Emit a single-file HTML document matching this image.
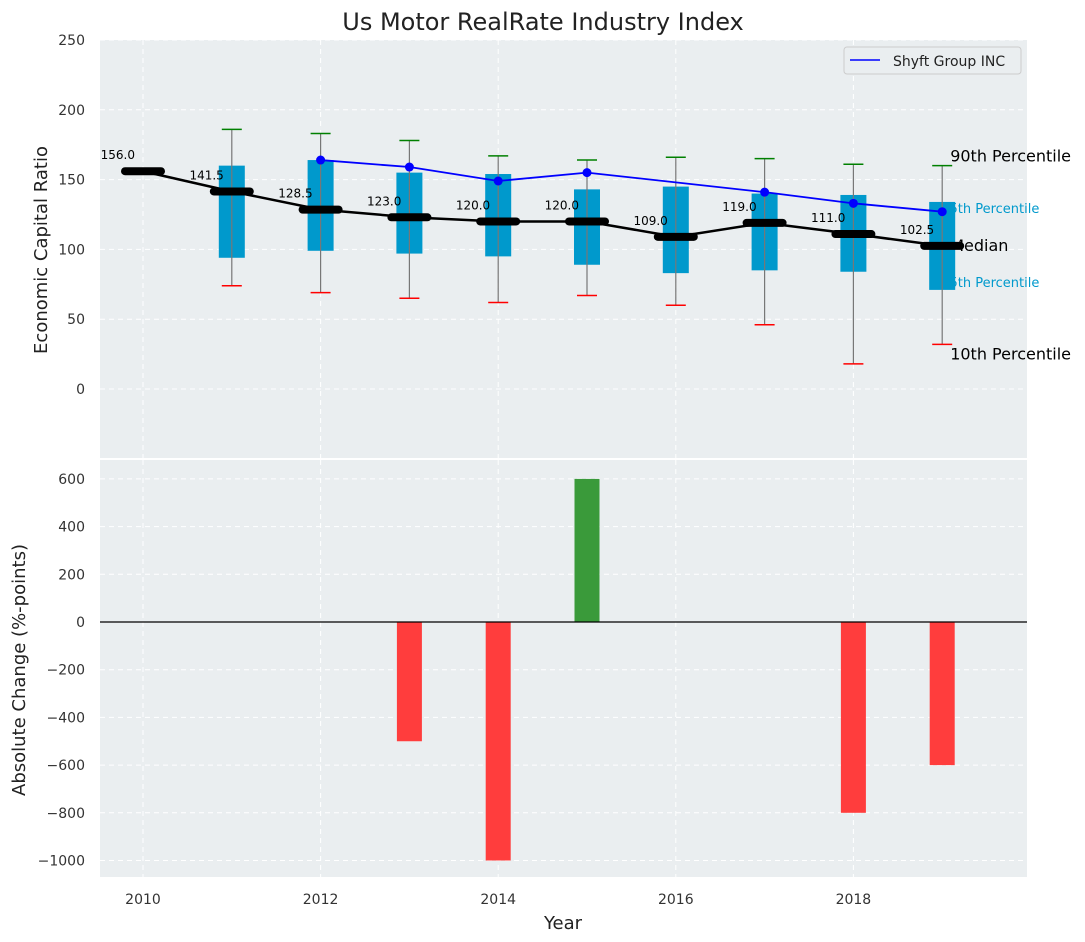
<!DOCTYPE html>
<html><head><meta charset="utf-8"><style>
body{margin:0;background:#fff;}
svg{display:block;font-family:"DejaVu Sans","Liberation Sans",sans-serif;}
</style></head><body>
<svg id="chart" width="1085" height="942" xmlns="http://www.w3.org/2000/svg">
<text x="543" y="30" font-size="24" text-anchor="middle" fill="#222">Us Motor RealRate Industry Index</text>
<rect x="100" y="40" width="927" height="418" fill="#eaeef0"/>
<rect x="100" y="460" width="927" height="417" fill="#eaeef0"/>
<g id="gtop"></g><g id="gbot"></g>
<text x="47" y="250" font-size="18" text-anchor="middle" fill="#222" transform="rotate(-90 47 250)">Economic Capital Ratio</text>
<text x="25" y="670" font-size="18" text-anchor="middle" fill="#222" transform="rotate(-90 25 670)">Absolute Change (%-points)</text>
<text x="563" y="929" font-size="18" text-anchor="middle" fill="#222">Year</text>
<g>
<rect x="844" y="47" width="177" height="27" rx="3" fill="#eaeef0" stroke="#ccc"/>
<line x1="850" y1="60" x2="880" y2="60" stroke="blue" stroke-width="1.5"/>
<text x="893" y="66" font-size="14" fill="#222">Shyft Group INC</text>
</g>
</svg>
<script>
const years=[2010,2011,2012,2013,2014,2015,2016,2017,2018,2019];
const medians=[156,141.5,128.5,123,120,120,109,119,111,102.5];
const p90=[null,186,183,178,167,164,166,165,161,160];
const p10=[null,74,69,65,62,67,60,46,18,32];
const q3=[null,160,164,155,154,143,145,140,139,134];
const q1=[null,94,99,97,95,89,83,85,84,71];
const shyft=[null,null,164,159,149,155,null,141,133,127];
const changes=[0,0,0,-500,-1000,600,0,0,-800,-600];
const topTicks=[0,50,100,150,200,250];
const botTicks=[-1000,-800,-600,-400,-200,0,200,400,600];
const xTicks=[2010,2012,2014,2016,2018];

const NS="http://www.w3.org/2000/svg";
const X=v=>143+(v-2010)*88.8;
const Yt=v=>389-v*1.396;
const Yb=v=>622-v*0.2385;
function mk(p,t,a){const e=document.createElementNS(NS,t);for(const k in a)e.setAttribute(k,a[k]);p.appendChild(e);return e;}
const gTop=document.getElementById('gtop'),gBot=document.getElementById('gbot');

topTicks.forEach(v=>{
 const l=mk(gTop,'line',{x1:100,x2:1027,y1:Yt(v),y2:Yt(v),stroke:'#fff','stroke-dasharray':'5,4'});
 
 
 const t=mk(gTop,'text',{x:85,y:Yt(v)+5,'font-size':14,'text-anchor':'end',fill:'#333'});t.textContent=v;
 
 
});
botTicks.forEach(v=>{
 const l=mk(gBot,'line',{x1:100,x2:1027,y1:Yb(v),y2:Yb(v),stroke:'#fff','stroke-dasharray':'5,4'});
 
 
 const t=mk(gBot,'text',{x:85,y:Yb(v)+5,'font-size':14,'text-anchor':'end',fill:'#333'});t.textContent=(v<0?'\u2212'+(-v):v);
 
 
});
xTicks.forEach(v=>{
 mk(gTop,'line',{x1:X(v),x2:X(v),y1:40,y2:458,stroke:'#fff','stroke-dasharray':'5,4'});
 mk(gBot,'line',{x1:X(v),x2:X(v),y1:460,y2:877,stroke:'#fff','stroke-dasharray':'5,4'});
 const t=mk(gBot,'text',{x:X(v),y:904,'font-size':14,'text-anchor':'middle',fill:'#333'});t.textContent=v;
 
 
});

const lx=X(2019);
[['90th Percentile',p90[9],'#000',16,8,-4],['75th Percentile',q3[9],'#0099cc',13,-1,11],['Median',medians[9],'#000',16,8,5],['25th Percentile',q1[9],'#0099cc',13,-1,-3],['10th Percentile',p10[9],'#000',16,8,15]].forEach(a=>{
 const t=mk(gTop,'text',{x:lx+a[4],y:Yt(a[1])+a[5],'font-size':a[3],fill:a[2]});
 t.textContent=a[0];
 
 
});

years.forEach((yr,i)=>{
 if(q1[i]==null)return;
 const x=X(yr);
 const b=mk(gTop,'rect',{x:x-13,y:Yt(q3[i]),width:26,height:Yt(q1[i])-Yt(q3[i]),fill:'#0099cc'});
 
 
 mk(gTop,'line',{x1:x,x2:x,y1:Yt(p90[i]),y2:Yt(p10[i]),stroke:'#777','stroke-width':1.2});
 mk(gTop,'line',{x1:x-10,x2:x+10,y1:Yt(p90[i]),y2:Yt(p90[i]),stroke:'green','stroke-width':1.5});
 mk(gTop,'line',{x1:x-10,x2:x+10,y1:Yt(p10[i]),y2:Yt(p10[i]),stroke:'red','stroke-width':1.5});
});

let d='';years.forEach((yr,i)=>{d+=(i?'L':'M')+X(yr)+','+Yt(medians[i]);});
const ml=mk(gTop,'path',{d:d,fill:'none',stroke:'#000','stroke-width':2.5});


years.forEach((yr,i)=>{
 const s=mk(gTop,'line',{x1:X(yr)-18,x2:X(yr)+18,y1:Yt(medians[i]),y2:Yt(medians[i]),stroke:'#000','stroke-width':8,'stroke-linecap':'round'});
 
 
 const t=mk(gTop,'text',{x:X(yr)-8,y:Yt(medians[i])-12,'font-size':12,'text-anchor':'end',fill:'#000'});
 t.textContent=medians[i].toFixed(1);
 
 
});
let sd='';let first=true;
years.forEach((yr,i)=>{if(shyft[i]==null)return;sd+=(first?'M':'L')+X(yr)+','+Yt(shyft[i]);first=false;});
const sl=mk(gTop,'path',{d:sd,fill:'none',stroke:'blue','stroke-width':1.8});


years.forEach((yr,i)=>{if(shyft[i]==null)return;
 const c=mk(gTop,'circle',{cx:X(yr),cy:Yt(shyft[i]),r:4.5,fill:'blue'});
 
 
});

years.forEach((yr,i)=>{
 const v=changes[i];if(!v)return;
 const y0=Yb(0),y1=Yb(v);
 const r=mk(gBot,'rect',{x:X(yr)-12.5,y:Math.min(y0,y1),width:25,height:Math.abs(y1-y0),fill:v>0?'#3a9a3a':'#ff3d3d'});
 
 
});
mk(gBot,'line',{x1:100,x2:1027,y1:Yb(0),y2:Yb(0),stroke:'#000','stroke-width':1.2});
</script>
</body></html>
